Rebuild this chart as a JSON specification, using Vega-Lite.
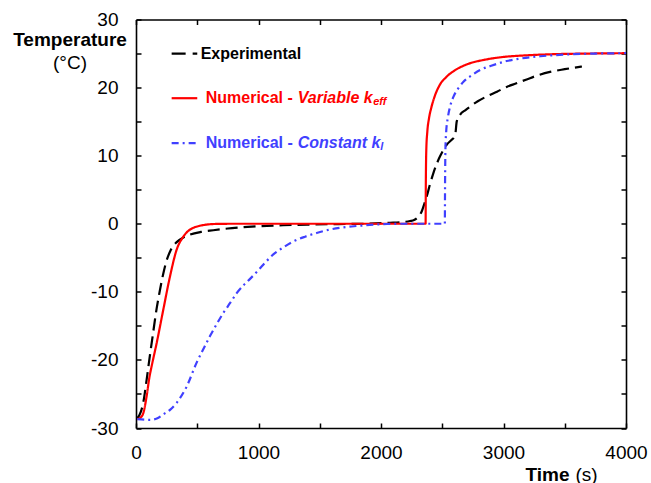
{
  "$schema": "https://vega.github.io/schema/vega-lite/v6.json",
  "width": 490,
  "height": 408.5,
  "autosize": "none",
  "padding": {"left": 136, "top": 19.5, "right": 25, "bottom": 55},
  "background": "white",
  "data": {"values": [{"anchor": "legend"}]},
  "config": {
    "view": {"stroke": null},
    "font": "Liberation Sans",
    "axis": {
      "domainColor": "#000000", "domainWidth": 1.6, "tickColor": "#000000", "tickWidth": 1.5, "tickSize": -5,
      "grid": false, "labelFont": "Liberation Sans", "labelFontSize": 19, "labelColor": "#000000",
      "titleColor": "#000000", "titleFont": "Liberation Sans", "titleFontSize": 19
    }
  },
  "datasets": {
    "curves": [
      {"series": "Experimental", "time": 10, "temp": -28.6},
      {"series": "Experimental", "time": 40, "temp": -27.6},
      {"series": "Experimental", "time": 60, "temp": -26.2},
      {"series": "Experimental", "time": 87, "temp": -22.9},
      {"series": "Experimental", "time": 110, "temp": -19.8},
      {"series": "Experimental", "time": 136, "temp": -16.5},
      {"series": "Experimental", "time": 169, "temp": -12.4},
      {"series": "Experimental", "time": 196, "temp": -9.7},
      {"series": "Experimental", "time": 223, "temp": -7.3},
      {"series": "Experimental", "time": 250, "temp": -5.4},
      {"series": "Experimental", "time": 280, "temp": -4.0},
      {"series": "Experimental", "time": 332, "temp": -2.7},
      {"series": "Experimental", "time": 390, "temp": -2.0},
      {"series": "Experimental", "time": 441, "temp": -1.6},
      {"series": "Experimental", "time": 530, "temp": -1.2},
      {"series": "Experimental", "time": 631, "temp": -0.95},
      {"series": "Experimental", "time": 750, "temp": -0.7},
      {"series": "Experimental", "time": 849, "temp": -0.55},
      {"series": "Experimental", "time": 1012, "temp": -0.35},
      {"series": "Experimental", "time": 1200, "temp": -0.22},
      {"series": "Experimental", "time": 1400, "temp": -0.12},
      {"series": "Experimental", "time": 1650, "temp": -0.05},
      {"series": "Experimental", "time": 1900, "temp": 0.02},
      {"series": "Experimental", "time": 2073, "temp": 0.15},
      {"series": "Experimental", "time": 2155, "temp": 0.22},
      {"series": "Experimental", "time": 2237, "temp": 0.4},
      {"series": "Experimental", "time": 2270, "temp": 0.55},
      {"series": "Experimental", "time": 2300, "temp": 0.95},
      {"series": "Experimental", "time": 2332, "temp": 1.8},
      {"series": "Experimental", "time": 2355, "temp": 3.0},
      {"series": "Experimental", "time": 2373, "temp": 4.0},
      {"series": "Experimental", "time": 2400, "temp": 5.8},
      {"series": "Experimental", "time": 2427, "temp": 7.4},
      {"series": "Experimental", "time": 2455, "temp": 8.8},
      {"series": "Experimental", "time": 2482, "temp": 9.9},
      {"series": "Experimental", "time": 2536, "temp": 11.6},
      {"series": "Experimental", "time": 2575, "temp": 12.3},
      {"series": "Experimental", "time": 2600, "temp": 12.8},
      {"series": "Experimental", "time": 2608, "temp": 13.3},
      {"series": "Experimental", "time": 2618, "temp": 15.0},
      {"series": "Experimental", "time": 2645, "temp": 16.0},
      {"series": "Experimental", "time": 2690, "temp": 16.7},
      {"series": "Experimental", "time": 2727, "temp": 17.2},
      {"series": "Experimental", "time": 2790, "temp": 18.0},
      {"series": "Experimental", "time": 2863, "temp": 18.7},
      {"series": "Experimental", "time": 2947, "temp": 19.4},
      {"series": "Experimental", "time": 3026, "temp": 20.1},
      {"series": "Experimental", "time": 3100, "temp": 20.6},
      {"series": "Experimental", "time": 3189, "temp": 21.2},
      {"series": "Experimental", "time": 3280, "temp": 21.8},
      {"series": "Experimental", "time": 3380, "temp": 22.3},
      {"series": "Experimental", "time": 3500, "temp": 22.7},
      {"series": "Experimental", "time": 3640, "temp": 23.1},

      {"series": "Variable", "time": 10, "temp": -28.7},
      {"series": "Variable", "time": 35, "temp": -28.5},
      {"series": "Variable", "time": 60, "temp": -27.8},
      {"series": "Variable", "time": 87, "temp": -25.3},
      {"series": "Variable", "time": 110, "temp": -22.5},
      {"series": "Variable", "time": 128, "temp": -20.9},
      {"series": "Variable", "time": 169, "temp": -17.5},
      {"series": "Variable", "time": 223, "temp": -12.6},
      {"series": "Variable", "time": 278, "temp": -7.7},
      {"series": "Variable", "time": 332, "temp": -3.8},
      {"series": "Variable", "time": 386, "temp": -1.9},
      {"series": "Variable", "time": 430, "temp": -1.0},
      {"series": "Variable", "time": 468, "temp": -0.6},
      {"series": "Variable", "time": 520, "temp": -0.3},
      {"series": "Variable", "time": 577, "temp": -0.12},
      {"series": "Variable", "time": 650, "temp": -0.03},
      {"series": "Variable", "time": 800, "temp": 0},
      {"series": "Variable", "time": 1500, "temp": 0},
      {"series": "Variable", "time": 2364, "temp": 0},
      {"series": "Variable", "time": 2366, "temp": 6},
      {"series": "Variable", "time": 2370, "temp": 11},
      {"series": "Variable", "time": 2378, "temp": 13.5},
      {"series": "Variable", "time": 2392, "temp": 15.5},
      {"series": "Variable", "time": 2410, "temp": 17.0},
      {"series": "Variable", "time": 2440, "temp": 18.8},
      {"series": "Variable", "time": 2480, "temp": 20.4},
      {"series": "Variable", "time": 2530, "temp": 21.5},
      {"series": "Variable", "time": 2600, "temp": 22.5},
      {"series": "Variable", "time": 2700, "temp": 23.4},
      {"series": "Variable", "time": 2850, "temp": 24.1},
      {"series": "Variable", "time": 3000, "temp": 24.5},
      {"series": "Variable", "time": 3150, "temp": 24.7},
      {"series": "Variable", "time": 3400, "temp": 24.9},
      {"series": "Variable", "time": 3700, "temp": 25.0},
      {"series": "Variable", "time": 4000, "temp": 25.05},

      {"series": "Constant", "time": 10, "temp": -28.7},
      {"series": "Constant", "time": 114, "temp": -28.8},
      {"series": "Constant", "time": 170, "temp": -28.6},
      {"series": "Constant", "time": 223, "temp": -28.0},
      {"series": "Constant", "time": 280, "temp": -27.3},
      {"series": "Constant", "time": 332, "temp": -26.3},
      {"series": "Constant", "time": 414, "temp": -23.9},
      {"series": "Constant", "time": 495, "temp": -20.4},
      {"series": "Constant", "time": 550, "temp": -18.4},
      {"series": "Constant", "time": 604, "temp": -16.5},
      {"series": "Constant", "time": 660, "temp": -14.7},
      {"series": "Constant", "time": 713, "temp": -13.1},
      {"series": "Constant", "time": 770, "temp": -11.6},
      {"series": "Constant", "time": 822, "temp": -10.2},
      {"series": "Constant", "time": 880, "temp": -9.0},
      {"series": "Constant", "time": 931, "temp": -8.1},
      {"series": "Constant", "time": 1000, "temp": -6.8},
      {"series": "Constant", "time": 1060, "temp": -5.6},
      {"series": "Constant", "time": 1121, "temp": -4.5},
      {"series": "Constant", "time": 1200, "temp": -3.5},
      {"series": "Constant", "time": 1284, "temp": -2.6},
      {"series": "Constant", "time": 1380, "temp": -1.9},
      {"series": "Constant", "time": 1475, "temp": -1.35},
      {"series": "Constant", "time": 1570, "temp": -0.9},
      {"series": "Constant", "time": 1665, "temp": -0.6},
      {"series": "Constant", "time": 1760, "temp": -0.4},
      {"series": "Constant", "time": 1856, "temp": -0.25},
      {"series": "Constant", "time": 1950, "temp": -0.12},
      {"series": "Constant", "time": 2050, "temp": -0.04},
      {"series": "Constant", "time": 2200, "temp": 0},
      {"series": "Constant", "time": 2521, "temp": 0},
      {"series": "Constant", "time": 2523, "temp": 6},
      {"series": "Constant", "time": 2526, "temp": 11},
      {"series": "Constant", "time": 2532, "temp": 13.5},
      {"series": "Constant", "time": 2545, "temp": 15.5},
      {"series": "Constant", "time": 2565, "temp": 17.3},
      {"series": "Constant", "time": 2590, "temp": 18.6},
      {"series": "Constant", "time": 2631, "temp": 19.9},
      {"series": "Constant", "time": 2675, "temp": 20.9},
      {"series": "Constant", "time": 2740, "temp": 21.8},
      {"series": "Constant", "time": 2811, "temp": 22.6},
      {"series": "Constant", "time": 2900, "temp": 23.2},
      {"series": "Constant", "time": 3026, "temp": 23.9},
      {"series": "Constant", "time": 3150, "temp": 24.3},
      {"series": "Constant", "time": 3300, "temp": 24.6},
      {"series": "Constant", "time": 3500, "temp": 24.85},
      {"series": "Constant", "time": 3750, "temp": 25.0},
      {"series": "Constant", "time": 4000, "temp": 25.05}
    ]
  },
  "layer": [
    {
      "data": {"name": "curves"},
      "mark": {"type": "line", "interpolate": "monotone", "strokeWidth": 2.2},
      "encoding": {
        "x": {
          "field": "time", "type": "quantitative",
          "scale": {"domain": [0, 4000], "nice": false, "zero": false},
          "axis": {
            "orient": "bottom", "values": [0, 500, 1000, 1500, 2000, 2500, 3000, 3500, 4000],
            "labelExpr": "datum.value % 1000 === 0 ? '' + datum.value : ''",
            "labelPadding": 20, "labelFlush": false, "labelOverlap": false,
            "title": "Time", "titleFontWeight": "bold", "titleX": 389, "titleY": 52,
            "titleAlign": "left", "titleBaseline": "alphabetic", "titleAnchor": null
          }
        },
        "y": {
          "field": "temp", "type": "quantitative",
          "scale": {"domain": [-30, 30], "nice": false, "zero": false},
          "axis": {
            "orient": "left", "values": [-30, -25, -20, -15, -10, -5, 0, 5, 10, 15, 20, 25, 30],
            "labelExpr": "datum.value % 10 === 0 ? '' + datum.value : ''",
            "labelPadding": 23, "labelFlush": false, "labelOverlap": false,
            "title": "Temperature", "titleFontWeight": "bold", "titleAngle": 0,
            "titleX": -66.5, "titleY": 25.5, "titleAlign": "center", "titleBaseline": "alphabetic", "titleAnchor": null
          }
        },
        "color": {
          "field": "series", "type": "nominal",
          "scale": {"domain": ["Experimental", "Variable", "Constant"], "range": ["#000000", "#ff0000", "#4040ff"]},
          "legend": null
        },
        "strokeDash": {
          "field": "series", "type": "nominal",
          "scale": {"domain": ["Experimental", "Variable", "Constant"], "range": [[12, 6], [1, 0], [7, 4, 2, 4]]},
          "legend": null
        }
      }
    },
    {
      "data": {"name": "curves"},
      "mark": {"type": "point", "opacity": 0},
      "encoding": {
        "x": {
          "field": "time", "type": "quantitative",
          "axis": {
            "orient": "top", "values": [0, 500, 1000, 1500, 2000, 2500, 3000, 3500, 4000], "labels": false,
            "title": "(s)", "titleFontWeight": "normal", "titleX": 439, "titleY": 460.5,
            "titleAlign": "left", "titleBaseline": "alphabetic", "titleAnchor": null
          }
        },
        "y": {
          "field": "temp", "type": "quantitative",
          "axis": {
            "orient": "right", "values": [-30, -25, -20, -15, -10, -5, 0, 5, 10, 15, 20, 25, 30], "labels": false,
            "title": "(°C)", "titleFontWeight": "normal", "titleAngle": 0, "titleX": -556.5, "titleY": 48.5,
            "titleAlign": "center", "titleBaseline": "alphabetic", "titleAnchor": null
          }
        }
      }
    },
    {
      "mark": {"type": "rule", "color": "#000000", "strokeWidth": 2.2, "strokeDash": [14, 7]},
      "encoding": {
        "x": {"datum": 291, "type": "quantitative", "axis": null},
        "x2": {"datum": 500},
        "y": {"datum": 25, "type": "quantitative", "axis": null}
      }
    },
    {
      "mark": {"type": "rule", "color": "#ff0000", "strokeWidth": 2.2},
      "encoding": {
        "x": {"datum": 291, "type": "quantitative", "axis": null},
        "x2": {"datum": 500},
        "y": {"datum": 18.44, "type": "quantitative", "axis": null}
      }
    },
    {
      "mark": {"type": "rule", "color": "#4040ff", "strokeWidth": 2.2, "strokeDash": [7, 4, 2, 4]},
      "encoding": {
        "x": {"datum": 291, "type": "quantitative", "axis": null},
        "x2": {"datum": 500},
        "y": {"datum": 11.84, "type": "quantitative", "axis": null}
      }
    },
    {
      "mark": {"type": "text", "text": "Experimental", "color": "#000000", "fontSize": 16, "fontWeight": "bold", "align": "left", "baseline": "middle"},
      "encoding": {
        "x": {"datum": 528, "type": "quantitative", "axis": null},
        "y": {"datum": 25, "type": "quantitative", "axis": null}
      }
    },
    {
      "mark": {"type": "text", "text": "Numerical - ", "color": "#ff0000", "fontSize": 16, "fontWeight": "bold", "align": "left", "baseline": "middle"},
      "encoding": {
        "x": {"datum": 569, "type": "quantitative", "axis": null},
        "y": {"datum": 18.44, "type": "quantitative", "axis": null}
      }
    },
    {
      "mark": {"type": "text", "text": "Variable k", "color": "#ff0000", "fontSize": 16, "fontWeight": "bold", "fontStyle": "italic", "align": "left", "baseline": "middle", "dx": 92},
      "encoding": {
        "x": {"datum": 569, "type": "quantitative", "axis": null},
        "y": {"datum": 18.44, "type": "quantitative", "axis": null}
      }
    },
    {
      "mark": {"type": "text", "text": "eff", "color": "#ff0000", "fontSize": 11, "fontWeight": "bold", "fontStyle": "italic", "align": "left", "baseline": "middle", "dx": 167.5, "dy": 4},
      "encoding": {
        "x": {"datum": 569, "type": "quantitative", "axis": null},
        "y": {"datum": 18.44, "type": "quantitative", "axis": null}
      }
    },
    {
      "mark": {"type": "text", "text": "Numerical - ", "color": "#4040ff", "fontSize": 16, "fontWeight": "bold", "align": "left", "baseline": "middle"},
      "encoding": {
        "x": {"datum": 569, "type": "quantitative", "axis": null},
        "y": {"datum": 11.84, "type": "quantitative", "axis": null}
      }
    },
    {
      "mark": {"type": "text", "text": "Constant k", "color": "#4040ff", "fontSize": 16, "fontWeight": "bold", "fontStyle": "italic", "align": "left", "baseline": "middle", "dx": 92},
      "encoding": {
        "x": {"datum": 569, "type": "quantitative", "axis": null},
        "y": {"datum": 11.84, "type": "quantitative", "axis": null}
      }
    },
    {
      "mark": {"type": "text", "text": "l", "color": "#4040ff", "fontSize": 11, "fontWeight": "bold", "fontStyle": "italic", "align": "left", "baseline": "middle", "dx": 174.5, "dy": 4},
      "encoding": {
        "x": {"datum": 569, "type": "quantitative", "axis": null},
        "y": {"datum": 11.84, "type": "quantitative", "axis": null}
      }
    }
  ],
  "resolve": {"axis": {"x": "independent", "y": "independent"}}
}
